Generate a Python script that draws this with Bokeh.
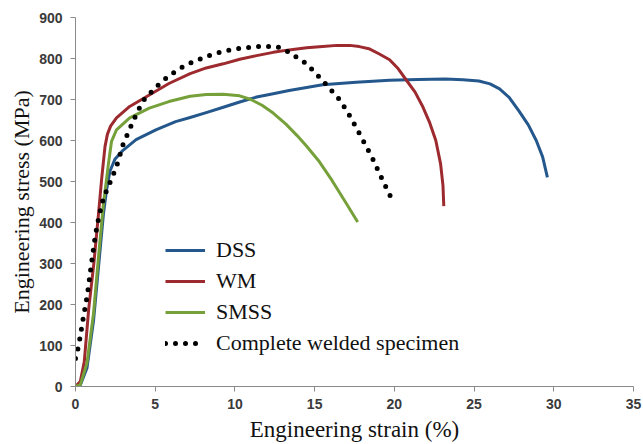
from bokeh.plotting import figure
from bokeh.models import Range1d, Legend, LegendItem, FixedTicker
from bokeh.embed import file_html
from bokeh.resources import INLINE

# Data
dss_x = [0, 0.3, 0.72, 1.13, 1.44, 1.75, 1.95, 2.16, 2.47, 2.98, 3.8, 5.04, 6.28, 7.19, 8.2, 9.27, 10.3,
         11.36, 12.4, 13.4, 15.5, 17.6, 19.7, 21.5, 23.2, 24.3, 25.3, 26.0, 26.6, 27.2, 27.8, 28.4, 28.9, 29.3, 29.6]
dss_y = [0, 3, 45, 160, 290, 420, 480, 525, 554, 576, 602, 626, 646, 656, 668, 681, 694,
         706, 714, 722, 736, 742, 747, 749, 750, 748, 745, 738, 726, 705, 673, 638, 600, 560, 510]

wm_x = [0, 0.3, 0.55, 0.83, 1.15, 1.44, 1.65, 1.85, 2.0, 2.2, 2.57, 3.4, 4.63, 5.86, 7.19, 8.2, 9.27, 10.3,
        11.36, 12.4, 13.4, 14.5, 15.5, 16.4, 17.2, 17.8, 18.4, 19.06, 19.7, 20.2, 20.7, 21.3, 21.8, 22.2,
        22.6, 22.9, 23.05, 23.1]
wm_y = [0, 12, 60, 190, 300, 420, 510, 585, 615, 635, 655, 683, 711, 739, 763, 777, 787, 798,
        807, 815, 821, 826, 829, 832, 832, 829, 824, 811, 797, 777, 750, 718, 681, 645,
        600, 543, 490, 440]

smss_x = [0, 0.3, 0.72, 1.13, 1.44, 1.75, 2.06, 2.26, 2.57, 3.4, 4.63, 5.86, 7.19, 8.2, 9.27, 10.3,
          11.0, 11.7, 12.4, 13.2, 13.9, 14.5, 15.3, 16.1, 16.9, 17.7]
smss_y = [0, 4, 57, 178, 315, 444, 541, 598, 626, 655, 679, 695, 708, 712, 713, 709,
          700, 686, 667, 640, 612, 586, 548, 502, 452, 401]

cws_x = [0, 0.2, 0.5, 0.75, 1.0, 1.25, 1.5, 1.77, 2.0, 2.3, 2.6, 2.98, 3.6, 4.2, 5.04, 5.86, 6.9, 8.2,
         9.27, 10.3, 11.36, 12.6, 13.0, 13.4, 14.5, 15.5, 16.6, 17.2, 17.6, 18.6, 19.3, 20.0]
cws_y = [68, 100, 170, 225, 300, 370, 420, 462, 482, 510, 540, 590, 646, 695, 730, 758, 784, 805,
         818, 825, 829, 829, 824, 815, 787, 746, 698, 660, 632, 559, 500, 444]

series_names = ["DSS", "WM", "SMSS", "Complete welded specimen"]
x_ticks = [0, 5, 10, 15, 20, 25, 30, 35]
y_ticks = [0, 100, 200, 300, 400, 500, 600, 700, 800, 900]

p = figure(width=643, height=444, output_backend="svg", toolbar_location=None,
           x_range=Range1d(0, 35), y_range=Range1d(0, 900),
           min_border_left=75, min_border_right=10, min_border_top=17, min_border_bottom=58)
p.outline_line_color = None
p.xgrid.visible = False
p.ygrid.visible = False
p.background_fill_color = "white"

r1 = p.line(dss_x, dss_y, line_color="#24588c", line_width=3, line_join="round")
r2 = p.line(wm_x, wm_y, line_color="#9c2a2e", line_width=3, line_join="round")
r3 = p.line(smss_x, smss_y, line_color="#76a03a", line_width=3, line_join="round")
r4 = p.line(cws_x, cws_y, line_color="black", line_width=5, line_dash="0 10", line_cap="round")

for ax in (p.xaxis[0], p.yaxis[0]):
    ax.axis_line_color = "#8a8a8a"
    ax.axis_line_width = 1
    ax.major_tick_line_color = "#8a8a8a"
    ax.major_tick_out = 5
    ax.major_tick_in = 0
    ax.minor_tick_line_color = None
    ax.major_label_text_font = "Liberation Sans"
    ax.major_label_text_font_style = "bold"
    ax.major_label_text_font_size = "14px"
    ax.major_label_text_color = "#3a3a3a"
    ax.axis_label_text_font = "Liberation Serif"
    ax.axis_label_text_font_style = "normal"
    ax.axis_label_text_color = "#111111"

p.xaxis[0].axis_label_text_font_size = "23px"
p.yaxis[0].axis_label_text_font_size = "22px"
p.xaxis[0].ticker = FixedTicker(ticks=x_ticks)
p.yaxis[0].ticker = FixedTicker(ticks=y_ticks)
p.xaxis[0].axis_label = "Engineering strain (%)"
p.yaxis[0].axis_label = "Engineering stress (MPa)"
p.xaxis[0].major_label_standoff = 7
p.yaxis[0].major_label_standoff = 8
p.xaxis[0].axis_label_standoff = 5
p.yaxis[0].axis_label_standoff = 2

legend = Legend(items=[LegendItem(label=series_names[0], renderers=[r1]),
                       LegendItem(label=series_names[1], renderers=[r2]),
                       LegendItem(label=series_names[2], renderers=[r3]),
                       LegendItem(label=series_names[3], renderers=[r4])],
                location=(90, 30))
legend.border_line_color = None
legend.background_fill_alpha = 0
legend.label_text_font = "Liberation Serif"
legend.label_text_font_size = "22px"
legend.label_text_color = "#111111"
legend.glyph_width = 40
legend.glyph_height = 26
legend.label_height = 26
legend.spacing = 5
legend.padding = 4
legend.label_standoff = 11
p.add_layout(legend, "center")

open("out.html", "w").write(file_html(p, INLINE))
